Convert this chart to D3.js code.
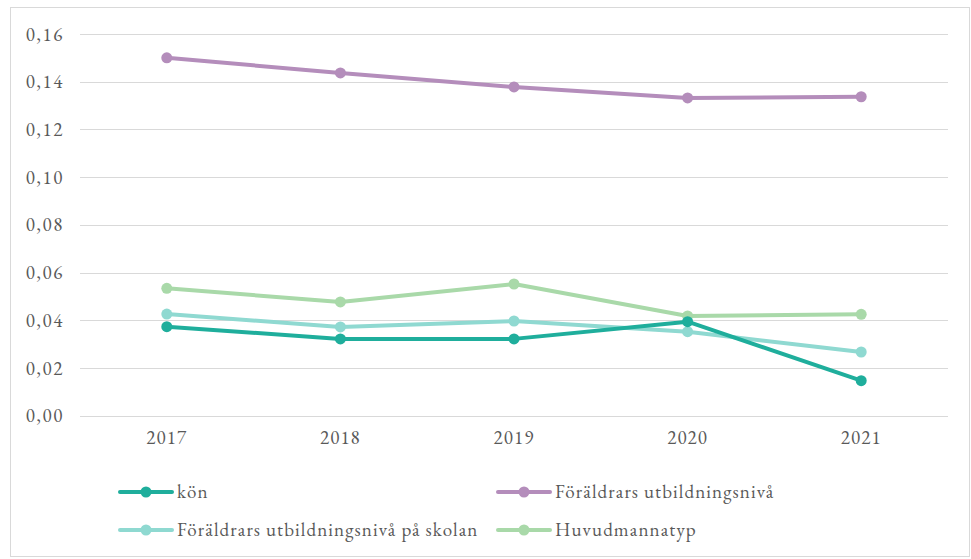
<!DOCTYPE html>
<html><head><meta charset="utf-8">
<script src="https://cdn.jsdelivr.net/npm/d3@7"></script>
<style>body{margin:0;background:#fff}svg{display:block}</style>
</head><body>
<svg id="c" width="971" height="559"></svg>
<script>
const years = ["2017","2018","2019","2020","2021"];
const yTicks = [0,0.02,0.04,0.06,0.08,0.10,0.12,0.14,0.16];
const seriesNames = ["kön","Föräldrars utbildningsnivå","Föräldrars utbildningsnivå på skolan","Huvudmannatyp"];
const seriesColors = ["#1fae9c","#b48dbb","#8fd9d1","#a9d9a9"];
const konValues = [0.0373,0.0322,0.0322,0.0394,0.0147];
const foraldrarValues = [0.1500,0.1437,0.1378,0.1332,0.1337];
const skolanValues = [0.0426,0.0372,0.0397,0.0352,0.0267];
const huvudValues = [0.0534,0.0477,0.0552,0.0418,0.0425];
const allValues = [konValues,foraldrarValues,skolanValues,huvudValues];
const drawOrder = [1,3,2,0];

const svg = d3.select("#c");
const textColor = "#595959";
const FONT = '"EB Garamond","Liberation Serif",serif';

function styleText(sel, size, ls){
  sel.style("font-family",FONT).style("font-size",size+"px")
     .style("letter-spacing",ls+"px").attr("fill",textColor);
}

svg.append("rect").attr("x",10.5).attr("y",7.5).attr("width",959).attr("height",549)
  .attr("fill","none").attr("stroke","#d9d9d9").attr("stroke-width",1);

const x = d3.scaleBand().domain(years).range([80,948]);
const y = d3.scaleLinear().domain([0,0.16]).range([415.7,34]);

const fmt = d => d3.format(".2f")(d).replace(".",",");

svg.append("g").selectAll("line").data(yTicks).join("line")
  .attr("x1",80).attr("x2",948)
  .attr("y1",d=>Math.round(y(d))+0.5).attr("y2",d=>Math.round(y(d))+0.5)
  .attr("stroke","#d9d9d9").attr("stroke-width",1);

const yAxis = d3.axisLeft(y).tickValues(yTicks).tickFormat(fmt).tickSize(0).tickPadding(0);
const ga = svg.append("g").attr("transform","translate(64,0)").call(yAxis);
ga.select(".domain").remove();
styleText(ga.selectAll("text"),19,1.6);

const xAxis = d3.axisBottom(x).tickSize(0).tickPadding(0);
const gx = svg.append("g").attr("transform","translate(0,430)").call(xAxis);
gx.select(".domain").remove();
styleText(gx.selectAll("text"),19,1.1);

const line = d3.line().x((d,i)=>x(years[i])+x.bandwidth()/2).y(d=>y(d));

drawOrder.forEach(k=>{
  const vals = allValues[k];
  const g = svg.append("g");
  g.append("path").attr("d",line(vals)).attr("fill","none")
    .attr("stroke",seriesColors[k]).attr("stroke-width",4).attr("stroke-linejoin","round");
  g.selectAll("circle").data(vals).join("circle")
    .attr("cx",(d,i)=>x(years[i])+x.bandwidth()/2).attr("cy",d=>y(d)).attr("r",5.5)
    .attr("fill",seriesColors[k]);
});

const legendPos = [[120,492],[498,492],[120,530],[498,530]];
seriesNames.forEach((n,k)=>{
  const [lx,ly] = legendPos[k];
  const g = svg.append("g").attr("transform",`translate(${lx},${ly})`);
  g.append("line").attr("x1",0).attr("x2",52).attr("y1",0).attr("y2",0)
    .attr("stroke",seriesColors[k]).attr("stroke-width",4).attr("stroke-linecap","round");
  g.append("circle").attr("cx",26).attr("cy",0).attr("r",5.5).attr("fill",seriesColors[k]);
  const t = g.append("text").attr("x",57).attr("y",0).attr("dy","0.3em").text(n);
  styleText(t,19,1.1);
});
</script>
</body></html>
